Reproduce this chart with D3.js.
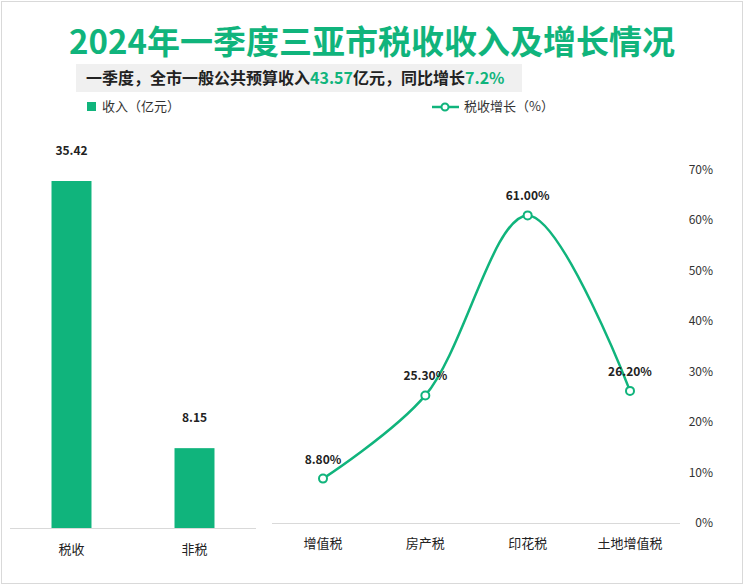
<!DOCTYPE html><html><head><meta charset="utf-8"><script src="https://cdn.jsdelivr.net/npm/d3@7"></script>
<style>body{margin:0;background:#fff}text{font-family:"Noto Sans CJK SC","Noto Sans",sans-serif}</style></head><body><svg id="c" width="744" height="585"></svg>
<script>
const barCats=["税收","非税"];
const barVals=[35.42,8.15];
const lineCats=["增值税","房产税","印花税","土地增值税"];
const lineVals=[8.8,25.3,61.0,26.2];
const yTicks=[0,10,20,30,40,50,60,70];
const G="#10b47c";
const svg=d3.select("#c");
svg.append("rect").attr("x",1.5).attr("y",1.5).attr("width",741).attr("height",582).attr("fill","#fff").attr("stroke","#d9d9d9");
svg.append("text").attr("x",372).attr("y",54).attr("text-anchor","middle").attr("font-size",33).attr("font-weight","bold").attr("fill",G).text("2024年一季度三亚市税收收入及增长情况");
svg.append("rect").attr("x",76).attr("y",64).attr("width",446).attr("height",28).attr("fill","#f0f0f0");
const st=svg.append("text").attr("x",86).attr("y",84).attr("font-size",16).attr("font-weight","bold").attr("fill","#222");
[["一季度，全市一般公共预算收入","#222"],["43.57",G],["亿元，同比增长","#222"],["7.2%",G]].forEach(d=>st.append("tspan").attr("fill",d[1]).text(d[0]));
svg.append("rect").attr("x",87).attr("y",102).attr("width",9).attr("height",9).attr("fill",G);
svg.append("text").attr("x",102).attr("y",111).attr("font-size",13).attr("fill","#333").text("收入（亿元）");
svg.append("line").attr("x1",432).attr("x2",459).attr("y1",107).attr("y2",107).attr("stroke",G).attr("stroke-width",2.5);
svg.append("circle").attr("cx",445).attr("cy",107).attr("r",3.5).attr("fill","#fff").attr("stroke",G).attr("stroke-width",2);
svg.append("text").attr("x",464).attr("y",111).attr("font-size",13).attr("fill","#333").text("税收增长（%）");
// bars
const xb=d3.scaleBand().domain(barCats).range([10,256]).paddingInner(0.675).paddingOuter(0.3375);
const yb=d3.scaleLinear().domain([0,35.42]).range([528,181]);
svg.append("line").attr("x1",10).attr("x2",256).attr("y1",528.5).attr("y2",528.5).attr("stroke","#d9d9d9");
svg.selectAll(".b").data(barVals).join("rect").attr("x",(d,i)=>xb(barCats[i])).attr("width",xb.bandwidth()).attr("y",d=>yb(d)).attr("height",d=>528-yb(d)).attr("fill",G);
svg.selectAll(".bl").data(barVals).join("text").attr("x",(d,i)=>xb(barCats[i])+xb.bandwidth()/2).attr("y",d=>yb(d)-26).attr("text-anchor","middle").attr("font-size",12).attr("font-weight","bold").attr("fill","#222").text(d=>d.toFixed(2));
svg.selectAll(".bc").data(barCats).join("text").attr("x",d=>xb(d)+xb.bandwidth()/2).attr("y",554).attr("text-anchor","middle").attr("font-size",13).attr("fill","#222").text(d=>d);
// line
const xl=d3.scalePoint().domain(lineCats).range([323,630]);
const yl=d3.scaleLinear().domain([0,70]).range([523,170]);
svg.append("line").attr("x1",272).attr("x2",680).attr("y1",523.5).attr("y2",523.5).attr("stroke","#d9d9d9");
svg.selectAll(".yt").data(yTicks).join("text").attr("x",713).attr("y",d=>yl(d)+4).attr("text-anchor","end").attr("font-size",12).attr("fill","#333").text(d=>d+"%");
const pts=lineVals.map((v,i)=>[xl(lineCats[i]),yl(v)]);
svg.append("path").attr("d",d3.line().curve(d3.curveCatmullRom.alpha(0.5))(pts)).attr("fill","none").attr("stroke",G).attr("stroke-width",2.5);
svg.selectAll(".pt").data(pts).join("circle").attr("cx",d=>d[0]).attr("cy",d=>d[1]).attr("r",4).attr("fill","#fff").attr("stroke",G).attr("stroke-width",2);
svg.selectAll(".pl").data(lineVals).join("text").attr("x",(d,i)=>pts[i][0]).attr("y",(d,i)=>pts[i][1]-15).attr("text-anchor","middle").attr("font-size",12).attr("font-weight","bold").attr("fill","#222").text(d=>d.toFixed(2)+"%");
svg.selectAll(".lc").data(lineCats).join("text").attr("x",d=>xl(d)).attr("y",548).attr("text-anchor","middle").attr("font-size",13).attr("fill","#222").text(d=>d);
</script></body></html>
